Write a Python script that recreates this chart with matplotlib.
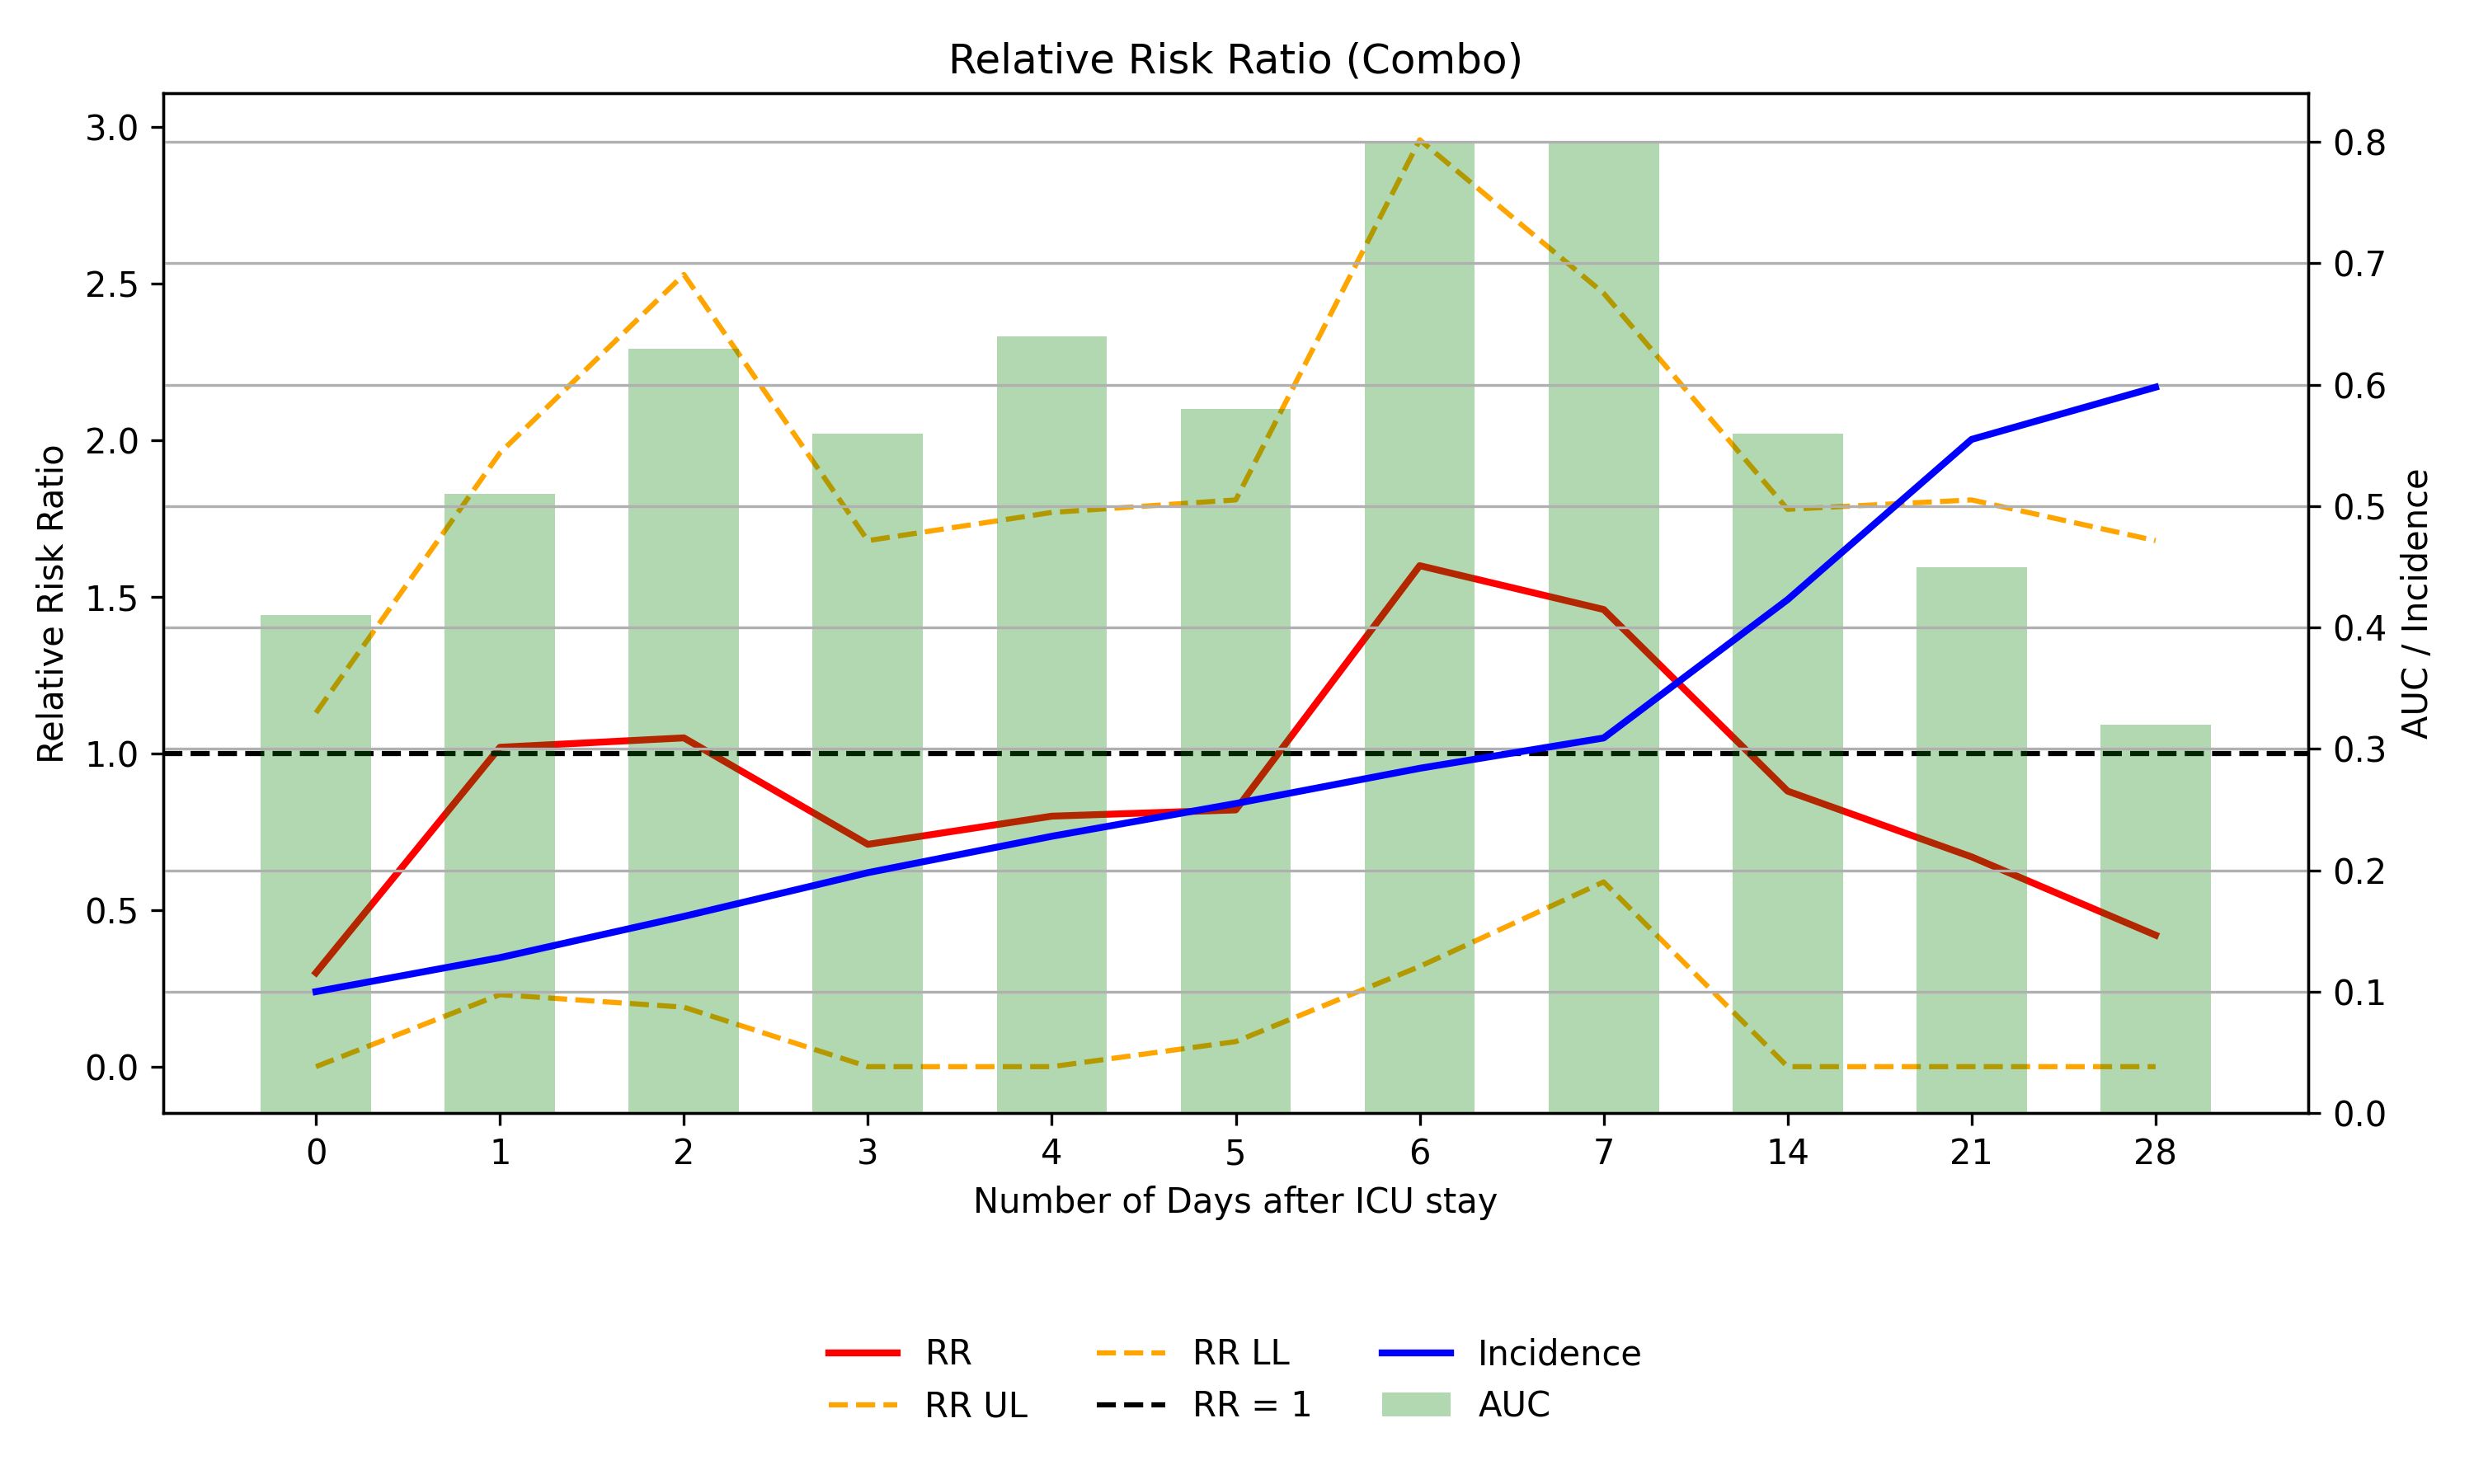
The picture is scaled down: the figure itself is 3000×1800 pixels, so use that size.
import matplotlib.pyplot as plt

days = ["0", "1", "2", "3", "4", "5", "6", "7", "14", "21", "28"]
rr = [0.30, 1.02, 1.05, 0.71, 0.80, 0.82, 1.60, 1.46, 0.88, 0.67, 0.42]
rr_ul = [1.13, 1.96, 2.53, 1.68, 1.77, 1.81, 2.96, 2.47, 1.78, 1.81, 1.68]
rr_ll = [0.00, 0.23, 0.19, 0.00, 0.00, 0.08, 0.32, 0.59, 0.00, 0.00, 0.00]
auc = [0.41, 0.51, 0.63, 0.56, 0.64, 0.58, 0.80, 0.80, 0.56, 0.45, 0.32]
incidence = [0.10, 0.128, 0.162, 0.198, 0.228, 0.255, 0.284, 0.309, 0.423, 0.555, 0.598]

x = list(range(len(days)))

fig, ax1 = plt.subplots(figsize=(10, 6), dpi=300)

# RR on left axis
ax1.plot(x, rr, color="red", lw=2, label="RR")
ax1.plot(x, rr_ul, color="orange", ls="--", lw=1.5, label="RR UL")
ax1.plot(x, rr_ll, color="orange", ls="--", lw=1.5, label="RR LL")
ax1.axhline(1, color="black", ls="--", lw=1.5, label="RR = 1")
ax1.set_ylabel("Relative Risk Ratio")
ax1.set_xlabel("Number of Days after ICU stay")
ax1.set_xticks(x)
ax1.set_xticklabels(days)

# AUC + incidence on right axis
ax2 = ax1.twinx()
ax2.bar(x, auc, width=0.6, color="green", alpha=0.3, label="AUC")
ax2.plot(x, incidence, color="blue", lw=2, label="Incidence")
ax2.set_ylabel("AUC / Incidence")
ax2.grid(True)

ax1.set_title("Relative Risk Ratio (Combo)")

h1, l1 = ax1.get_legend_handles_labels()
h2, l2 = ax2.get_legend_handles_labels()
ax1.legend(h1 + h2, l1 + l2, loc="upper center", bbox_to_anchor=(0.5, -0.19),
           ncol=3, frameon=False)

fig.subplots_adjust(left=0.066, right=0.933, top=0.937, bottom=0.25)
plt.savefig("out.png")
